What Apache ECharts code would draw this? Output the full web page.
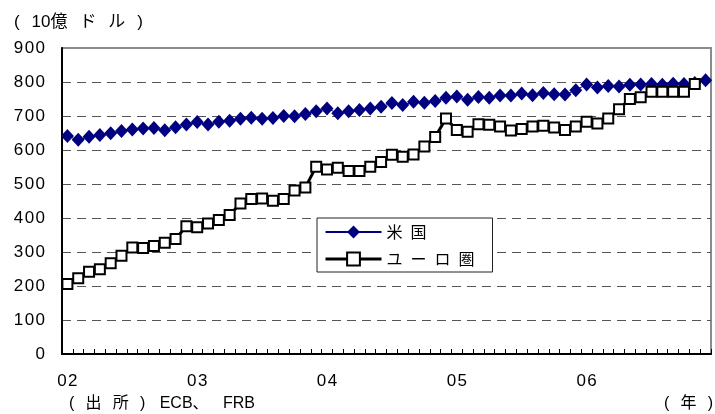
<!DOCTYPE html>
<html>
<head>
<meta charset="utf-8">
<script src="https://cdn.jsdelivr.net/npm/echarts@6/dist/echarts.min.js"></script>
<style>
html,body{margin:0;padding:0;background:#fff;}
#chart{width:715px;height:414px;}
</style>
</head>
<body>
<div id="chart"></div>
<script>
// Data (billions of USD), monthly Jan 2002 - Dec 2006
const years = ['02', '03', '04', '05', '06'];
const monthNums = [1, 2, 3, 4, 5, 6, 7, 8, 9, 10, 11, 12];
const seriesNames = ['米国', 'ユーロ圏'];
const usValues = [
  641, 630, 639, 644, 649, 656, 660, 663, 665, 658, 667, 675,
  682, 675, 683, 686, 692, 695, 692, 694, 700, 699, 706, 714,
  722, 708, 714, 718, 722, 727, 738, 732, 742, 739, 744, 754,
  757, 748, 756, 754, 760, 760, 766, 761, 768, 764, 763, 776,
  793, 784, 788, 787, 792, 793, 794, 792, 795, 794, 797, 805
];
const euroValues = [
  206, 223, 242, 249, 267, 289, 313, 312, 318, 327, 338, 376,
  373, 384, 394, 409, 443, 456, 457, 451, 456, 481, 490, 551,
  543, 548, 538, 538, 551, 565, 586, 580, 587, 610, 638, 693,
  659, 654, 676, 674, 669, 657, 662, 669, 671, 666, 659, 669,
  683, 678, 693, 720, 750, 755, 771, 771, 771, 771, 794
];
const yTicks = [0, 100, 200, 300, 400, 500, 600, 700, 800, 900];
const unitLabel = '( 10億 ド ル )';
const sourceLabel = '( 出 所 )\u2009 ECB、\u2009 FRB';
const yearLabel = '( 年 )';

const categories = [];
years.forEach(y => monthNums.forEach(m => categories.push(y + '/' + m)));

const latinFont = '"Liberation Sans", Arial, sans-serif';
const jpFont = '"Liberation Sans", "Noto Sans CJK JP", sans-serif';
const spaced = s => s.split(' ').join('\u2002\u2009');
const digitSpaced = s => String(s).split('').join('\u200A');

const chart = echarts.init(document.getElementById('chart'), null, {renderer: 'canvas'});
const splitColors = yTicks.map((v, i) => (i === 0 || i === yTicks.length - 1) ? 'transparent' : '#555');

chart.setOption({
  animation: false,
  backgroundColor: '#fff',
  grid: {
    left: 62, right: 4, top: 48, bottom: 60,
    show: true, borderColor: '#8c8c8c', borderWidth: 2, backgroundColor: 'transparent'
  },
  graphic: [
    {type: 'text', left: 14, top: 14, style: {text: spaced(unitLabel), font: '17px ' + jpFont, fill: '#000'}},
    {type: 'text', left: 69, top: 396, style: {text: spaced(sourceLabel), font: '16px ' + jpFont, fill: '#000'}},
    {type: 'text', right: 2, top: 396, style: {text: spaced(yearLabel), font: '16px ' + jpFont, fill: '#000'}}
  ],
  legend: {
    data: [
      {name: seriesNames[0]},
      {name: seriesNames[1], lineStyle: {width: 3}}
    ],
    orient: 'vertical',
    left: 317, top: 218,
    padding: [6, 18, 5, 7],
    itemGap: 11,
    itemWidth: 56, itemHeight: 16,
    backgroundColor: '#fff',
    borderColor: '#222', borderWidth: 1,
    formatter: name => name.split('').join('\u2002'),
    textStyle: {fontSize: 16, fontFamily: '"Noto Sans CJK JP", sans-serif', color: '#000'}
  },
  xAxis: {
    type: 'category',
    data: categories,
    boundaryGap: true,
    axisLine: {lineStyle: {color: '#000', width: 2}},
    axisTick: {show: true, interval: 0, inside: true, length: 5, lineStyle: {color: '#000', width: 1}},
    axisLabel: {
      interval: 11, margin: 19,
      fontSize: 17, fontFamily: latinFont, color: '#000',
      formatter: v => digitSpaced(v.split('/')[0])
    },
    splitLine: {show: false}
  },
  yAxis: {
    type: 'value',
    min: 0, max: 900, interval: 100,
    axisLine: {show: true, lineStyle: {color: '#000', width: 2}},
    axisTick: {show: false},
    axisLabel: {margin: 17, fontSize: 17, fontFamily: latinFont, color: '#000', formatter: v => digitSpaced(v)},
    splitLine: {show: true, lineStyle: {color: splitColors, width: 1, type: [9, 6]}}
  },
  series: [
    {
      name: seriesNames[0],
      type: 'line',
      data: usValues,
      symbol: 'diamond',
      symbolSize: [13, 14],
      showAllSymbol: true,
      lineStyle: {color: '#000080', width: 1},
      itemStyle: {color: '#000080'},
      z: 2
    },
    {
      name: seriesNames[1],
      type: 'line',
      data: euroValues,
      symbol: 'rect',
      symbolSize: 10,
      showAllSymbol: true,
      lineStyle: {color: '#000', width: 3},
      itemStyle: {color: '#fff', borderColor: '#000', borderWidth: 2},
      z: 3
    }
  ]
});
</script>
</body>
</html>
